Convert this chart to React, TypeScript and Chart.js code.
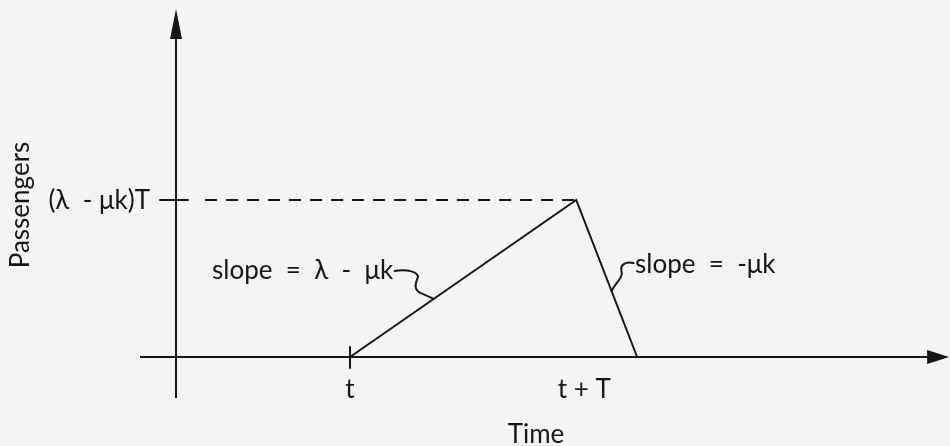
import { useEffect, useRef } from "react";
import { Chart, registerables } from "chart.js";

Chart.register(...registerables);

// Time runs in units where the first arrival is at t = 1.
const timeMarks = [1, 2.3]; // t, t + T
const timeLabels = ["t", "t + T"];

// Passenger count at the terminal: grows from t, peaks at t + T, then is cleared.
const queueTimes = [1, 2.3, 2.65];
const queueValues = [0, 1, 0]; // in units of (λ - μk)T

const peakValue = 1;
const peakLabel = "(λ  - μk)T";
const slopeLabels = ["slope  =  λ  -  μk", "slope  =  -μk"];
const axisTitles = ["Time", "Passengers"];

// Drawing extents (data units)
const VIEW_X = [-1.0115, 4.448];
const VIEW_Y = [-0.567, 2.274];
const AXIS_X = [-0.207, 4.443];
const AXIS_Y = [-0.261, 2.217];
const DASH_START = 0.167;

const INK = "#161616";
const PAPER = "#f4f4f4";
const FONT = "Lato, 'Open Sans', sans-serif";

const diagramPlugin = {
  id: "diagram",
  beforeDraw(chart: any) {
    const { ctx, width, height } = chart;
    ctx.save();
    ctx.fillStyle = PAPER;
    ctx.fillRect(0, 0, width, height);
    ctx.restore();
  },
  afterDatasetsDraw(chart: any) {
    const { ctx } = chart;
    const xs = chart.scales.x;
    const ys = chart.scales.y;
    const px = (v: number) => xs.getPixelForValue(v);
    const py = (v: number) => ys.getPixelForValue(v);
    const ox = px(0);
    const oy = py(0);

    ctx.save();
    ctx.fillStyle = INK;
    ctx.strokeStyle = INK;
    ctx.lineWidth = 2;
    ctx.lineCap = "round";

    // arrowheads
    const yTip = py(AXIS_Y[1]);
    ctx.beginPath();
    ctx.moveTo(ox, yTip);
    ctx.lineTo(ox - 6, yTip + 30);
    ctx.lineTo(ox + 6, yTip + 30);
    ctx.closePath();
    ctx.fill();

    const xTip = px(AXIS_X[1]);
    ctx.beginPath();
    ctx.moveTo(xTip, oy);
    ctx.lineTo(xTip - 22, oy - 7);
    ctx.lineTo(xTip - 22, oy + 7);
    ctx.closePath();
    ctx.fill();

    // tick marks
    ctx.beginPath();
    ctx.moveTo(px(timeMarks[0]), oy - 10);
    ctx.lineTo(px(timeMarks[0]), oy + 11);
    ctx.moveTo(ox - 16, py(peakValue));
    ctx.lineTo(ox + 12, py(peakValue));
    ctx.stroke();

    // callout squiggles
    const a0 = { x: px(queueTimes[0]), y: py(queueValues[0]) };
    const a1 = { x: px(queueTimes[1]), y: py(queueValues[1]) };
    const a2 = { x: px(queueTimes[2]), y: py(queueValues[2]) };
    const f1 = 0.37;
    const p1 = { x: a0.x + (a1.x - a0.x) * f1, y: a0.y + (a1.y - a0.y) * f1 };
    ctx.beginPath();
    ctx.moveTo(p1.x - 39, p1.y - 28);
    ctx.bezierCurveTo(p1.x - 27, p1.y - 30, p1.x - 14, p1.y - 27, p1.x - 16, p1.y - 21);
    ctx.bezierCurveTo(p1.x - 19, p1.y - 14, p1.x - 20, p1.y - 8, p1.x - 11, p1.y - 5);
    ctx.lineTo(p1.x, p1.y);
    ctx.stroke();

    const f2 = 0.58;
    const p2 = { x: a1.x + (a2.x - a1.x) * f2, y: a1.y + (a2.y - a1.y) * f2 };
    ctx.beginPath();
    ctx.moveTo(p2.x + 22, p2.y - 28);
    ctx.bezierCurveTo(p2.x + 14, p2.y - 30, p2.x + 8, p2.y - 26, p2.x + 10, p2.y - 20);
    ctx.bezierCurveTo(p2.x + 12, p2.y - 13, p2.x + 4, p2.y - 9, p2.x, p2.y);
    ctx.stroke();

    // text
    ctx.textBaseline = "middle";
    ctx.font = `26px ${FONT}`;
    ctx.textAlign = "center";
    ctx.fillText(timeLabels[0], px(timeMarks[0]), oy + 33);
    ctx.fillText(timeLabels[1], px(timeMarks[1]) + 8, oy + 33);
    ctx.fillText(axisTitles[0], 536, 435);

    ctx.textAlign = "right";
    ctx.fillText(peakLabel, ox - 26, py(peakValue) + 1);

    ctx.textAlign = "left";
    ctx.fillText(slopeLabels[0], 212, 271);
    ctx.fillText(slopeLabels[1], 635, 265);

    ctx.save();
    ctx.translate(21, 205);
    ctx.rotate(-Math.PI / 2);
    ctx.textAlign = "center";
    ctx.fillText(axisTitles[1], 0, 0);
    ctx.restore();

    ctx.restore();
  },
};

export default function App() {
  const ref = useRef<HTMLCanvasElement | null>(null);

  useEffect(() => {
    document.body.style.margin = "0";
    document.body.style.background = PAPER;
    const canvas = ref.current;
    if (!canvas) return;

    const queue = queueTimes.map((t, i) => ({ x: t, y: queueValues[i] }));

    const chart = new Chart(canvas, {
      type: "scatter",
      data: {
        datasets: [
          {
            label: "time axis",
            data: [
              { x: AXIS_X[0], y: 0 },
              { x: AXIS_X[1] - 0.05, y: 0 },
            ],
            showLine: true,
            borderColor: INK,
            borderWidth: 2,
            pointRadius: 0,
          },
          {
            label: "passenger axis",
            data: [
              { x: 0, y: AXIS_Y[0] },
              { x: 0, y: AXIS_Y[1] - 0.1 },
            ],
            showLine: true,
            borderColor: INK,
            borderWidth: 2,
            pointRadius: 0,
          },
          {
            label: "peak level",
            data: [
              { x: DASH_START, y: peakValue },
              { x: queueTimes[1], y: peakValue },
            ],
            showLine: true,
            borderColor: INK,
            borderWidth: 2.2,
            borderDash: [12, 9],
            pointRadius: 0,
          },
          {
            label: "passengers",
            data: queue,
            showLine: true,
            borderColor: INK,
            borderWidth: 2,
            pointRadius: 0,
            tension: 0,
          },
        ],
      },
      options: {
        animation: false,
        responsive: false,
        events: [],
        layout: { padding: 0 },
        plugins: {
          legend: { display: false },
          tooltip: { enabled: false },
        },
        scales: {
          x: { type: "linear", min: VIEW_X[0], max: VIEW_X[1], display: false },
          y: { type: "linear", min: VIEW_Y[0], max: VIEW_Y[1], display: false },
        },
      },
      plugins: [diagramPlugin],
    });

    return () => chart.destroy();
  }, []);

  return (
    <div style={{ position: "fixed", left: 0, top: 0, width: 950, height: 446, background: PAPER }}>
      <canvas ref={ref} width={950} height={446} style={{ display: "block" }} />
    </div>
  );
}
